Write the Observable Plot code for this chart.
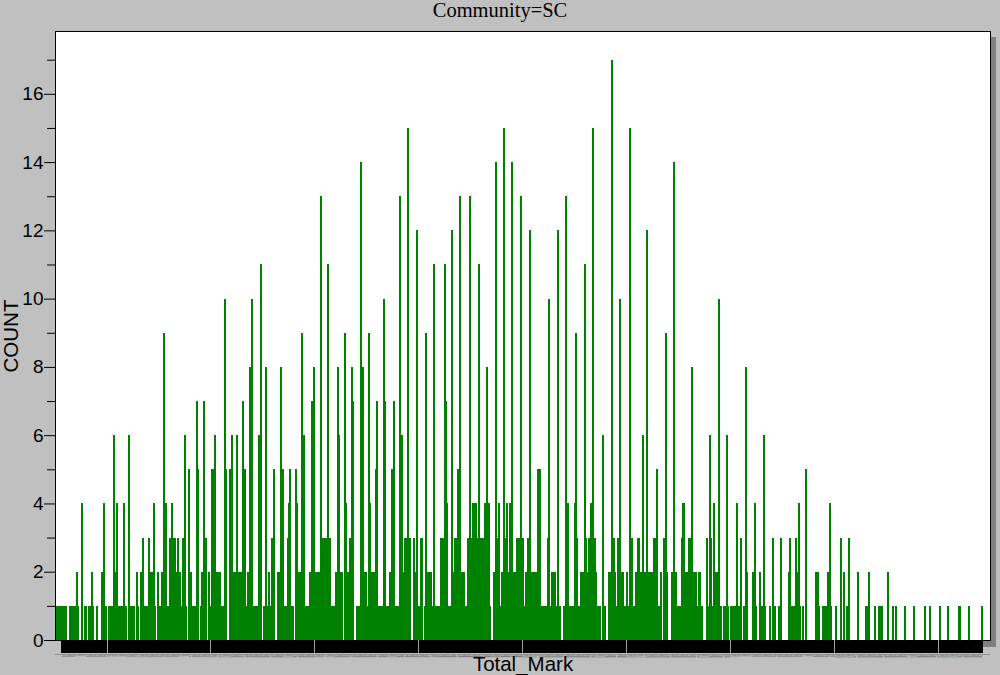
<!DOCTYPE html>
<html>
<head>
<meta charset="utf-8">
<script src="https://cdn.jsdelivr.net/npm/d3@7"></script>
<script src="https://cdn.jsdelivr.net/npm/@observablehq/plot@0.6"></script>
<style>
html,body{margin:0;padding:0;background:#c0c0c0;}
#page{position:relative;width:1000px;height:675px;overflow:hidden;}
#title{position:absolute;left:0;top:0;width:1000px;text-align:center;font:20.5px/21px "Liberation Serif",serif;color:#000;}
#shadow{position:absolute;left:61px;top:37px;width:935px;height:610px;background:#808080;}
#chart{position:absolute;left:0;top:0;}
svg{display:block;}
</style>
</head>
<body>
<div id="page"><div id="shadow"></div><div id="chart"></div><div id="title">Community=SC</div></div>
<script>
const titleText = "Community=SC";
const xLabel = "Total_Mark";
const yLabel = "COUNT";
// Total_Mark values found at each frequency
const count1 = [52,53,54,55,56,57,58,59,60,61,64,65,66,67,68,69,70,72,79,80,83,84,85,87,90,96,98,99,102,103,104,105,106,109,111,112,113,114,115,117,118,122,123,124,125,126,130,136,137,138,139,146,150,151,156,158,159,160,172,174,
176,180,182,183,184,185,186,190,199,205,210,211,212,213,230,234,235,241,242,243,244,245,247,251,252,254,255,257,258,270,271,272,273,277,278,279,291,292,293,294,298,
310,316,317,318,319,324,331,341,342,343,350,351,361,362,364,365,366,369,370,371,377,378,379,380,381,399,400,401,406,413,414,416,417,418,419,420,
428,429,430,431,445,446,463,465,469,476,478,479,501,502,510,512,518,519,520,521,522,523,526,527,532,533,535,536,540,541,545,546,547,548,549,
553,554,555,562,572,573,574,578,579,590,591,598,599,601,602,606,607,608,613,619,623,630,631,649,650,651,652,656,659,666,668,669,672,673,
678,679,682,683,685,690,691,694,695,696,698,701,702,703,704,705,707,708,709,713,714,723,725,729,730,731,733,738,743,747,748,758,759,760,761,762,767,770,785,789,790,791,792,797,802,812,830,831,839,843,845,846,856,859,868,877,887,892,902,909,920,921,930,942];
const count2 = [71,86,95,108,129,133,134,141,142,143,144,149,153,154,166,167,169,170,
181,191,192,198,206,207,208,209,221,222,223,224,226,227,228,229,236,237,256,265,266,284,285,286,287,295,296,
300,301,302,303,304,305,320,321,325,326,332,333,347,348,349,355,356,357,358,372,373,385,386,396,397,408,409,410,411,412,
433,434,441,442,443,444,472,473,480,481,486,487,491,492,493,494,503,504,508,509,511,513,514,528,529,530,531,
556,557,558,559,563,571,583,584,585,589,595,596,597,600,609,610,614,615,617,618,621,622,624,625,633,639,644,645,647,648,657,658,664,665,667,670,671,
686,687,688,716,722,728,756,764,765,782,783,784,794,795,809,823,833,852];
const count3 = [135,140,161,162,164,165,168,173,194,195,259,260,274,
307,308,309,311,314,315,334,335,387,388,389,391,392,395,402,403,421,422,423,424,
435,436,437,439,447,448,450,451,456,457,459,460,461,462,475,483,484,495,496,497,499,500,505,506,524,
552,561,564,565,567,569,570,587,588,592,593,604,605,611,612,626,627,628,636,637,653,660,661,662,
677,681,710,741,749,757,763,806,814];
const count4 = [76,97,110,116,145,157,163,275,283,330,353,427,452,453,454,455,464,467,468,477,485,488,489,543,544,550,566,654,655,684,706,724,766,796];
const count5 = [179,188,201,202,203,215,218,219,232,233,261,268,269,276,282,359,374,375,438,515,516,517,629,773];
const count6 = [107,121,175,204,220,225,246,289,290,323,383,384,577,616,680,697,732];
const count7 = [187,193,231,297,337,360,368,376,426];
const count8 = [238,239,253,267,299,322,336,345,346,466,663,715];
const count9 = [155,288,329,352,407,551,638];
const count10 = [214,240,367,525,594,689];
const count11 = [248,313,415,425,458,560];
const count12 = [398,432,507,534,620];
const count13 = [306,382,440,449,498,542];
const count14 = [344,474,490,646];
const count15 = [390,482,568,603];
const count17 = [586];
const levels = [[1,count1],[2,count2],[3,count3],[4,count4],[5,count5],[6,count6],[7,count7],[8,count8],[9,count9],[10,count10],[11,count11],[12,count12],[13,count13],[14,count14],[15,count15],[17,count17]];
const yMajorTicks = [0,2,4,6,8,10,12,14,16];
const yMinorTicks = [1,3,5,7,9,11,13,15,17];
const xBandTicks = d3.range(57,943);
const xHundreds = [100,200,300,400,500,600,700,800,900];

const table = levels.flatMap(([count,marks]) => marks.map(mark => ({mark,count})));
const blank = () => "";

const fig = Plot.plot({
  width:1000, height:675,
  marginLeft:55, marginRight:10, marginTop:31, marginBottom:35,
  style:{background:"none", fontFamily:'"Liberation Sans",Arial,sans-serif', color:"#000", overflow:"visible"},
  x:{domain:[50.43,950.3]},
  y:{domain:[0,17.84]},
  marks:[
    Plot.frame({fill:"white", stroke:"black", strokeWidth:1}),
    Plot.ruleX(table,{x:"mark", y1:0, y2:"count", stroke:"#008000", strokeWidth:2, shapeRendering:"crispEdges"}),
    Plot.axisX({anchor:"bottom", ticks:xBandTicks, tickSize:13, stroke:"#000", strokeWidth:2, strokeOpacity:1, tickRotate:-90, tickPadding:2, fontSize:1, fill:"#333", tickFormat:d=>String(d), label:null, textOverflow:null, shapeRendering:"crispEdges"}),
    Plot.axisX({anchor:"bottom", ticks:xHundreds, tickSize:13, stroke:"#a0a0a0", strokeWidth:1, strokeOpacity:1, tickFormat:blank, label:null, shapeRendering:"crispEdges"}),
    Plot.ruleY([0],{dy:14, stroke:"#909090", strokeWidth:1}),
    Plot.axisY({ticks:yMajorTicks, tickSize:11, tickPadding:1, stroke:"#000", strokeOpacity:1, strokeWidth:1, fontSize:19, fill:"#000", label:null}),
    Plot.axisY({ticks:yMinorTicks, tickSize:8, stroke:"#000", strokeOpacity:1, strokeWidth:1, tickFormat:blank, label:null}),
    Plot.text([yLabel],{frameAnchor:"left", dx:-44, rotate:-90, textAnchor:"middle", fontSize:20.5, fill:"#000"}),
    Plot.text([xLabel],{frameAnchor:"bottom", dy:24, lineAnchor:"middle", fontSize:20.5, fill:"#000"})
  ]
});
document.getElementById("chart").appendChild(fig);
document.getElementById("title").textContent = titleText;
</script>
</body>
</html>
